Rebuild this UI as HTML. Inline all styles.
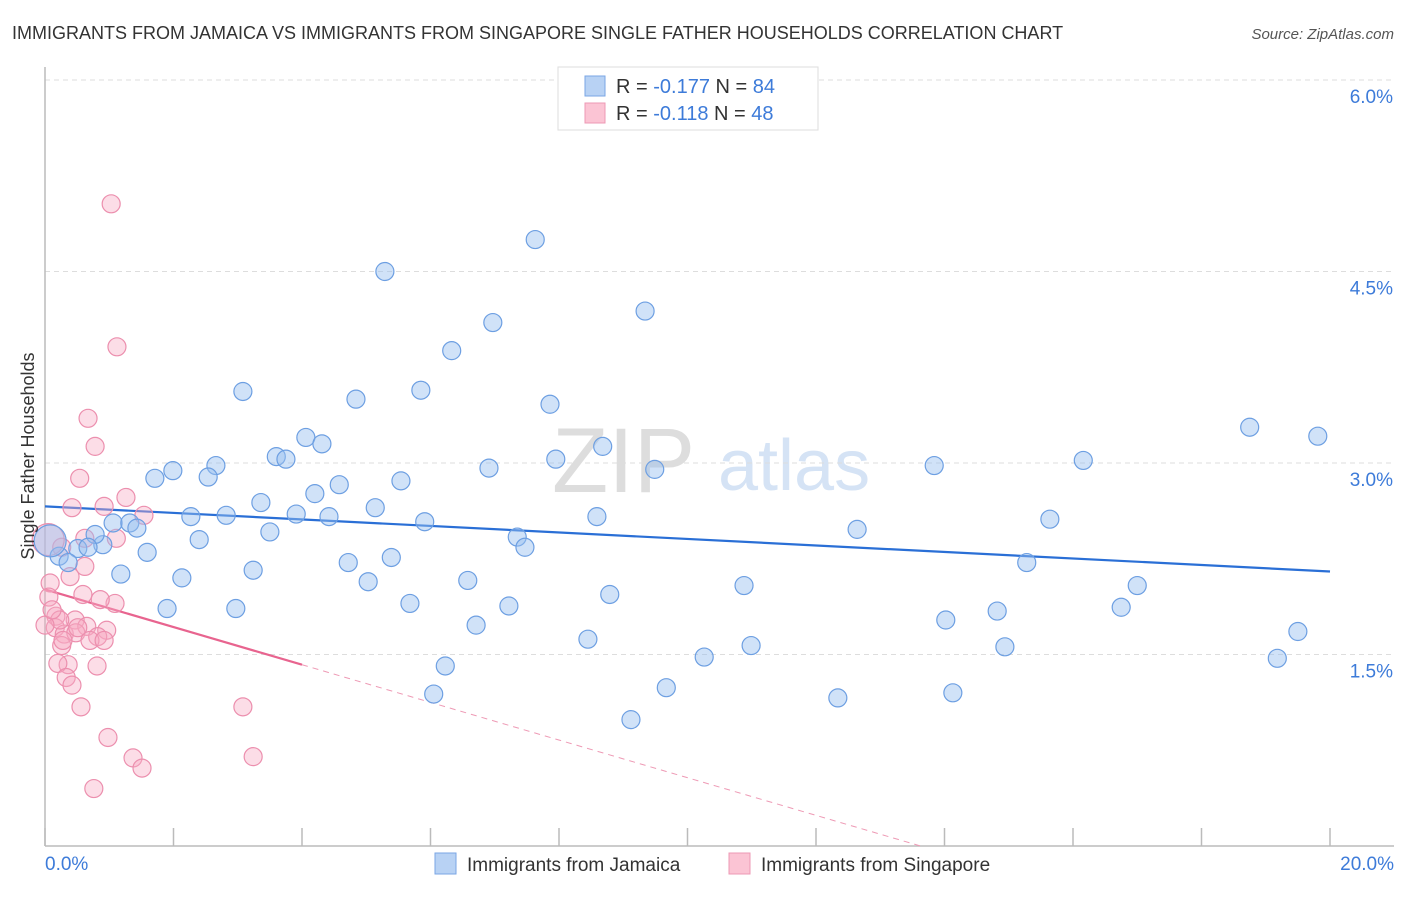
<!DOCTYPE html>
<html><head><meta charset="utf-8">
<style>
body{margin:0;background:#fff;font-family:"Liberation Sans",sans-serif;}
svg text{font-family:"Liberation Sans",sans-serif;}
</style></head>
<body>
<svg id="chart" width="1406" height="892" xmlns="http://www.w3.org/2000/svg">
<text x="12" y="39" font-size="18" fill="#333">IMMIGRANTS FROM JAMAICA VS IMMIGRANTS FROM SINGAPORE SINGLE FATHER HOUSEHOLDS CORRELATION CHART</text>
<text x="1394" y="39" font-size="15" fill="#555" text-anchor="end" font-style="italic">Source: ZipAtlas.com</text>
<g>
<text x="552" y="492" font-size="92" fill="#ddd" font-family="Liberation Serif,serif">ZIP</text>
<text x="718" y="490" font-size="72" fill="#d5e3f5">atlas</text>
</g>
<g id="grid"></g>
<g id="axes"></g>
<g id="trends"></g>
<g id="pts"></g>
<text transform="translate(34,456) rotate(-90)" font-size="18" fill="#333" text-anchor="middle">Single Father Households</text>
<g>
<rect x="558" y="67" width="260" height="63" fill="#fff" stroke="#ddd"/>
<rect x="585" y="76" width="20" height="20" fill="#b8d2f4" stroke="#7aa6e4"/>
<rect x="585" y="103" width="20" height="20" fill="#fbc4d4" stroke="#ee98b4"/>
<text x="616" y="93" font-size="20" fill="#333">R = <tspan fill="#3d7bd9">-0.177</tspan>    N = <tspan fill="#3d7bd9">84</tspan></text>
<text x="616" y="120" font-size="20" fill="#333">R = <tspan fill="#3d7bd9"> -0.118</tspan>    N = <tspan fill="#3d7bd9">48</tspan></text>
</g>
<g>
<rect x="435" y="853" width="21" height="21" fill="#b8d2f4" stroke="#7aa6e4"/>
<text x="467" y="871" font-size="19" fill="#333">Immigrants from Jamaica</text>
<rect x="729" y="853" width="21" height="21" fill="#fbc4d4" stroke="#ee98b4"/>
<text x="761" y="871" font-size="19" fill="#333">Immigrants from Singapore</text>
</g>
</svg>
<script>
const jamX=[7.63,5.29,9.34,6.97,6.33,3.08,5.85,4.84,7.86,4.06,4.31,8.68,3.60,3.75,7.95,1.99,2.66,6.91,9.49,1.71,2.54,13.84,16.16,18.75,19.81,4.58,5.54,4.20,3.36,5.14,2.27,2.82,3.91,4.42,5.91,8.59,15.64,12.64,1.06,1.32,1.43,3.50,2.40,7.35,7.47,0.90,0.78,0.51,1.59,0.22,0.36,4.72,5.39,3.24,1.18,2.13,5.03,6.58,10.88,15.28,17.00,8.79,5.68,7.22,1.90,2.97,16.75,14.82,14.02,6.71,8.45,19.50,10.99,14.94,10.26,6.23,19.18,9.67,6.05,14.13,12.34,9.12,0.08,0.67];
const jamY=[4.75,4.50,4.19,4.10,3.88,3.56,3.57,3.50,3.46,3.20,3.15,3.13,3.05,3.03,3.03,2.94,2.98,2.96,2.95,2.88,2.89,2.98,3.02,3.28,3.21,2.83,2.86,2.76,2.69,2.65,2.58,2.59,2.60,2.58,2.54,2.58,2.56,2.48,2.53,2.53,2.49,2.46,2.40,2.42,2.34,2.36,2.44,2.33,2.30,2.27,2.22,2.22,2.26,2.16,2.13,2.10,2.07,2.08,2.04,2.22,2.04,1.97,1.90,1.88,1.86,1.86,1.87,1.84,1.77,1.73,1.62,1.68,1.57,1.56,1.48,1.41,1.47,1.24,1.19,1.20,1.16,0.99,2.39,2.34];
const sinX=[1.03,1.12,0.67,0.78,0.54,1.26,0.42,0.92,1.54,0.62,1.11,0.26,0.62,0.39,0.08,0.59,0.06,1.09,0.86,0.17,0.47,0.65,0.16,0.30,0.96,0.82,0.48,0.26,0.36,0.81,0.20,0.33,0.42,0.56,3.08,0.98,1.37,1.51,0.76,3.24,0.05,0.23,0.51,0.00,0.11,0.70,0.28,0.92];
const sinY=[5.03,3.91,3.35,3.13,2.88,2.73,2.65,2.66,2.59,2.41,2.41,2.34,2.19,2.11,2.06,1.97,1.95,1.90,1.93,1.80,1.77,1.72,1.71,1.66,1.69,1.64,1.67,1.57,1.42,1.41,1.43,1.32,1.26,1.09,1.09,0.85,0.69,0.61,0.45,0.70,2.40,1.77,1.71,1.73,1.85,1.61,1.61,1.61];
const trendJam=[2.66,-0.0255];
const trendSin=[2.01,-0.1475];
const yTicks=[1.5,3.0,4.5,6.0];
const xTickLabels=["0.0%","20.0%"];
const NS="http://www.w3.org/2000/svg";
const X=v=>45+v*64.25, Y=v=>846-v*127.67;
function mk(p,t,a){const e=document.createElementNS(NS,t);for(const k in a)e.setAttribute(k,a[k]);p.appendChild(e);return e;}
const grid=document.getElementById('grid'),axes=document.getElementById('axes'),tr=document.getElementById('trends'),pts=document.getElementById('pts');
yTicks.forEach(t=>{
 const l=mk(grid,'line',{x1:45,x2:1394,y1:Y(t),y2:Y(t),stroke:'#ddd','stroke-dasharray':'5,4'});
 
 
 const tx=mk(grid,'text',{x:1393,y:Y(t)+23,'font-size':19,fill:'#3d7bd9','text-anchor':'end'});
 tx.textContent=t.toFixed(1)+'%';
 
 
});
mk(axes,'line',{x1:45,x2:45,y1:67,y2:846,stroke:'#bbb','stroke-width':1.5});
mk(axes,'line',{x1:45,x2:1394,y1:846,y2:846,stroke:'#bbb','stroke-width':1.5});
for(let i=0;i<=10;i++){const t=mk(axes,'line',{x1:X(i*2),x2:X(i*2),y1:828,y2:846,stroke:'#bbb','stroke-width':1.5});
 
 }
const xl0=mk(axes,'text',{x:45,y:870,'font-size':19,fill:'#3d7bd9'});xl0.textContent=xTickLabels[0];

const xl1=mk(axes,'text',{x:1394,y:870,'font-size':19,fill:'#3d7bd9','text-anchor':'end'});xl1.textContent=xTickLabels[1];

function dot(x,y,big,c){
 const r=big?16:9;
 const e=mk(pts,'circle',{cx:X(x),cy:Y(y),r:r,fill:c==='b'?'rgba(150,190,240,0.45)':'rgba(248,170,195,0.4)',stroke:c==='b'?'#6d9fe2':'#ec8fae','stroke-width':1.2});
 
 
}
sinX.forEach((x,i)=>dot(x,sinY[i],i===40,'p'));
jamX.forEach((x,i)=>dot(x,jamY[i],i===82,'b'));
const jl=mk(tr,'line',{x1:X(0),y1:Y(trendJam[0]),x2:X(20),y2:Y(trendJam[0]+trendJam[1]*20),stroke:'#2a6fd6','stroke-width':2.2});


const sl=mk(tr,'line',{x1:X(0),y1:Y(trendSin[0]),x2:X(4),y2:Y(trendSin[0]+trendSin[1]*4),stroke:'#e8648f','stroke-width':2.2});


const xe=-trendSin[0]/trendSin[1];
const sd=mk(tr,'line',{x1:X(4),y1:Y(trendSin[0]+trendSin[1]*4),x2:X(xe),y2:Y(0),stroke:'#ee9ab5','stroke-width':1,'stroke-dasharray':'6,5'});


</script>
</body></html>
